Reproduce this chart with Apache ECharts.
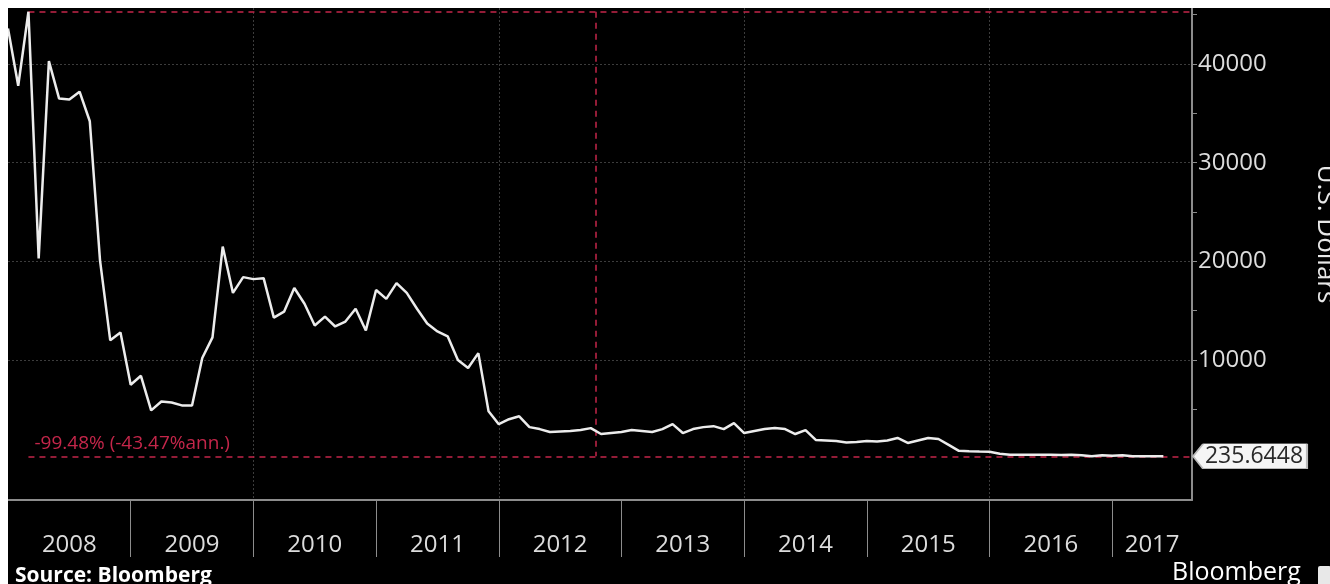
<!DOCTYPE html>
<html>
<head>
<meta charset="utf-8">
<script src="https://cdn.jsdelivr.net/npm/echarts@6/dist/echarts.min.js"></script>
<style>
  html, body { margin: 0; padding: 0; background: #ffffff; width: 1330px; height: 584px; overflow: hidden; }
  #chart { position: absolute; left: 8px; top: 8px; width: 1322px; height: 576px; background: #000; }
</style>
</head>
<body>
<div id="chart"></div>
<script>
// ---- data (monthly, Jan 2008 .. Jun 2017), U.S. Dollars ----
const years = ['2008', '2009', '2010', '2011', '2012', '2013', '2014', '2015', '2016', '2017'];
const v2008 = [43600, 37800, 45300, 20300, 40300, 36500, 36400, 37200, 34200, 20100, 12000, 12800];
const v2009 = [7500, 8400, 4900, 5800, 5700, 5400, 5400, 10200, 12300, 21500, 16800, 18400];
const v2010 = [18200, 18300, 14300, 14900, 17300, 15700, 13500, 14400, 13400, 13900, 15200, 13000];
const v2011 = [17100, 16200, 17800, 16800, 15200, 13700, 12900, 12400, 10000, 9200, 10700, 4800];
const v2012 = [3500, 4000, 4300, 3200, 3000, 2700, 2750, 2800, 2900, 3100, 2500, 2600];
const v2013 = [2700, 2900, 2800, 2700, 3000, 3500, 2600, 3000, 3200, 3300, 3000, 3600];
const v2014 = [2600, 2800, 3000, 3100, 3000, 2500, 2900, 1900, 1850, 1800, 1650, 1700];
const v2015 = [1800, 1750, 1850, 2100, 1600, 1850, 2100, 2000, 1400, 800, 750, 720];
const v2016 = [700, 500, 400, 400, 400, 400, 400, 380, 400, 350, 250, 350];
const v2017 = [300, 350, 250, 250, 240, 235.6448];
const yLabelValues = [10000, 20000, 30000, 40000];
const yTickValues = [5000, 10000, 15000, 20000, 25000, 30000, 35000, 40000, 45000];
const changeText = '-99.48% (-43.47%ann.)';
const yName = 'U.S. Dollars';

// ---- build ----
const values = [].concat(v2008, v2009, v2010, v2011, v2012, v2013, v2014, v2015, v2016, v2017);
const seriesData = values.map((v, i) => [i, v]);
const XMAX = 115.8;
const YMIN = -4186, YMAX = 45678;
let iMax = 0;
values.forEach((v, i) => { if (v > values[iMax]) iMax = i; });
const iLast = values.length - 1;
const vMax = values[iMax], vLast = values[iLast];
const xMid = (iMax + iLast) / 2;

const yearBounds = years.slice(1).map((_, k) => 12 * (k + 1));
const yearCenters = years.map((_, k) => (12 * k + Math.min(12 * k + 12, XMAX)) / 2);
const gridXs = yearBounds.filter((_, k) => k % 2 === 1);

const RED = '#c4264a';
const FONT = '"Open Sans", "DejaVu Sans", sans-serif';

const chart = echarts.init(document.getElementById('chart'), null, { renderer: 'canvas' });
chart.setOption({
  animation: false,
  backgroundColor: '#000000',
  grid: { left: 0, top: 0, right: 138, bottom: 84, containLabel: false },
  xAxis: [
    {
      type: 'value', min: 0, max: XMAX, position: 'bottom',
      axisLine: { show: true, onZero: false, lineStyle: { color: '#8c8c8c', width: 2 } },
      axisTick: { show: true, customValues: yearBounds, length: 57, lineStyle: { color: '#8c8c8c', width: 1 } },
      axisLabel: {
        show: true, customValues: yearCenters, margin: 33, hideOverlap: false,
        showMinLabel: true, showMaxLabel: true,
        color: '#dcdcdc', fontSize: 24, fontFamily: FONT,
        formatter: (val) => years[Math.floor(val / 12)]
      },
      splitLine: { show: false }
    },
    {
      type: 'value', min: 0, max: XMAX, position: 'top',
      axisLine: { show: false, onZero: false },
      axisTick: { show: false, customValues: gridXs },
      axisLabel: { show: false },
      splitLine: { show: true, lineStyle: { color: '#3c3c3c', width: 1, type: [2, 2] } }
    }
  ],
  yAxis: [
    {
      type: 'value', min: YMIN, max: YMAX, position: 'right',
      axisLine: { show: true, onZero: false, lineStyle: { color: '#8c8c8c', width: 2 } },
      axisTick: { show: true, customValues: yTickValues, length: 5, inside: false, lineStyle: { color: '#8c8c8c', width: 1 } },
      axisLabel: {
        show: true, customValues: yLabelValues, margin: 6,
        color: '#dcdcdc', fontSize: 24, fontFamily: FONT,
        formatter: (val) => String(val)
      },
      splitLine: { show: false }
    },
    {
      type: 'value', min: YMIN, max: YMAX, position: 'right',
      axisLine: { show: false, onZero: false },
      axisTick: { show: false, customValues: yLabelValues },
      axisLabel: { show: false },
      splitLine: { show: true, lineStyle: { color: '#3c3c3c', width: 1, type: [2, 2] } }
    }
  ],
  series: [{
    type: 'line',
    xAxisIndex: 0, yAxisIndex: 0,
    data: seriesData,
    showSymbol: false,
    symbol: 'none',
    clip: false,
    lineStyle: { color: '#ececec', width: 2.5 },
    z: 5,
    markLine: {
      silent: true,
      symbol: ['none', 'none'],
      lineStyle: { color: RED, type: [6, 5], width: 1.5 },
      label: { show: false },
      data: [
        [{ coord: [iMax, vMax] }, { coord: [XMAX, vMax] }],
        [{ coord: [iMax, vLast],
           label: { show: true, position: 'insideStartTop', formatter: changeText, color: RED, fontSize: 19, fontFamily: FONT, distance: [6, 3] } },
         { coord: [XMAX, vLast] }],
        [{ coord: [xMid, vMax] }, { coord: [xMid, vLast] }]
      ]
    },
    markPoint: {
      silent: true,
      data: [{
        coord: [XMAX, vLast], value: vLast,
        symbol: 'path://M0,12 L10,0 L114,0 L114,24 L10,24 Z',
        symbolSize: [114, 25],
        symbolKeepAspect: false,
        symbolOffset: [58, 0],
        itemStyle: { color: '#f5f5f5', borderColor: '#bbbbbb', borderWidth: 1 },
        label: { show: true, position: 'inside', offset: [4, 0], color: '#2a2a2a', fontSize: 23, fontFamily: FONT, formatter: (p) => String(p.value) }
      }]
    }
  }],
  graphic: [
    { type: 'text', left: 7, top: 558, silent: true,
      style: { text: 'Source: Bloomberg', fill: '#ffffff', font: 'bold 21px ' + FONT } },
    { type: 'text', left: 1164, top: 552, silent: true,
      style: { text: 'Bloomberg', fill: '#ffffff', font: '25px ' + FONT } },
    { type: 'rect', left: 1310, top: 558, silent: true,
      shape: { width: 13, height: 20, r: 2 }, style: { fill: '#e8e8e8' } },
    { type: 'text', x: 1317, y: 226, rotation: -Math.PI / 2, silent: true,
      style: { text: yName, fill: '#e8e8e8', font: '26px ' + FONT, textAlign: 'center', textVerticalAlign: 'middle' } }
  ]
});
</script>
</body>
</html>
